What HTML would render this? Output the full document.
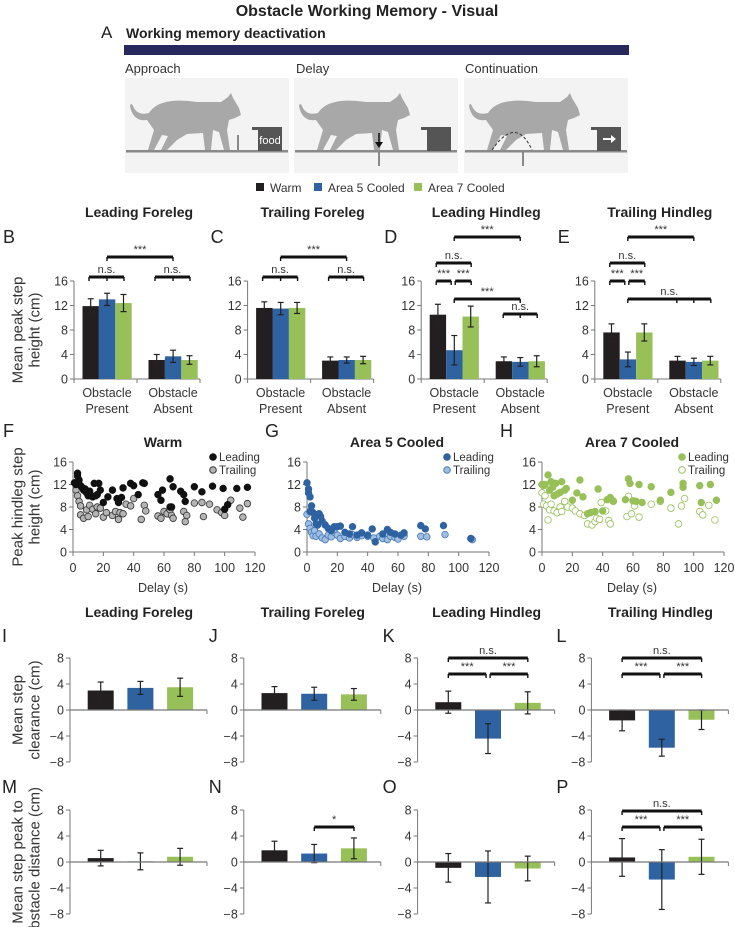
<!DOCTYPE html>
<html><head><meta charset="utf-8">
<style>
html,body{margin:0;padding:0;background:#fff;}
svg{display:block;font-family:"Liberation Sans",Arial,sans-serif;}
</style></head>
<body>
<svg id="fig" width="735" height="927" viewBox="0 0 735 927" xmlns="http://www.w3.org/2000/svg">
<text x="367" y="16" text-anchor="middle" font-size="16" font-weight="bold" fill="#222">Obstacle Working Memory - Visual</text>
<text x="101" y="38" font-size="17" fill="#222">A</text>
<text x="126" y="38" font-size="14" font-weight="bold" fill="#222">Working memory deactivation</text>
<rect x="124" y="45" width="505" height="10" fill="#26285e"/>
<text x="125" y="73" font-size="13" fill="#333">Approach</text>
<text x="296" y="73" font-size="13" fill="#333">Delay</text>
<text x="465" y="73" font-size="13" fill="#333">Continuation</text>
<g id="schematic"></g>
<g>
<rect x="256" y="183" width="8" height="8" fill="#231f20"/>
<text x="270" y="192" font-size="12" fill="#333">Warm</text>
<rect x="314" y="183" width="8" height="8" fill="#2e62a0"/>
<text x="328" y="192" font-size="12" fill="#333">Area 5 Cooled</text>
<rect x="414" y="183" width="8" height="8" fill="#97c058"/>
<text x="428" y="192" font-size="12" fill="#333">Area 7 Cooled</text>
</g>
<g id="charts"></g>
</svg>
<script>
// ---------- data ----------
const conditions = ["Warm","Area 5 Cooled","Area 7 Cooled"];
const rowTitles = ["Leading Foreleg","Trailing Foreleg","Leading Hindleg","Trailing Hindleg"];
const heightCategories = ["Obstacle Present","Obstacle Absent"];
const heightTicks = [0,4,8,12,16];
const diffTicks = [-8,-4,0,4,8];
const heightB = [11.9,13.0,12.4, 3.1,3.7,3.1];
const heightBErr = [1.2,1.0,1.4, 0.9,1.0,0.7];
const heightC = [11.6,11.5,11.6, 3.0,3.1,3.1];
const heightCErr = [1.0,1.0,0.9, 0.6,0.5,0.6];
const heightD = [10.5,4.7,10.2, 2.9,2.8,2.9];
const heightDErr = [1.7,2.4,1.7, 0.7,0.7,0.9];
const heightE = [7.6,3.2,7.6, 3.0,2.8,3.0];
const heightEErr = [1.4,1.2,1.4, 0.7,0.6,0.7];
const clearI = [3.0,3.4,3.5]; const clearIErr = [1.3,1.0,1.4];
const clearJ = [2.6,2.5,2.4]; const clearJErr = [1.0,1.0,0.9];
const clearK = [1.2,-4.4,1.1]; const clearKErr = [1.7,2.3,1.7];
const clearL = [-1.6,-5.8,-1.5]; const clearLErr = [1.6,1.3,1.5];
const distM = [0.6,0.1,0.8]; const distMErr = [1.2,1.3,1.3];
const distN = [1.8,1.3,2.1]; const distNErr = [1.4,1.4,1.6];
const distO = [-0.9,-2.3,-1.0]; const distOErr = [2.2,4.0,1.9];
const distP = [0.7,-2.7,0.8]; const distPErr = [2.9,4.6,2.7];
const delayTicks = [0,20,40,60,80,100,120];
const warmLeadX = [1,2,3,3,4,5,6,7,8,9,10,11,12,13,14,15,16,17,18,20,23,26,29,30,32,33,38,40,43,46,47,56,58,59,64,65,66,71,73,74,80,85,92,99,100,102,108,115,64];
const warmLeadY = [12.3,12,13.5,14,12.8,11.8,11.5,11,11.2,10.5,10,10.8,10,9.8,12.2,10,10.2,12.2,11,8.8,9.8,11,9.5,8.8,9.7,11.4,12.2,11.8,10.2,12.3,12.2,10.2,9.2,11,13,8,11.6,10.8,10.2,9,11.6,10.7,11.7,11.3,7.6,8.4,11.3,11.5,8];
const warmTrailX = [1,2,3,4,5,5,7,9,10,11,13,15,16,18,20,22,26,28,30,31,33,35,38,40,45,47,48,56,58,60,62,64,65,66,73,74,75,80,85,86,90,95,98,100,104,110,112,115];
const warmTrailY = [12.3,11,10,9,8.2,6.6,6,7.5,6.3,8.3,7.6,6.8,8,7.8,6.2,7,6.5,7.2,5.8,7,6.8,8.5,8.2,9.5,5.8,8.3,7.3,6.4,6,7.2,6.8,7.5,6.5,6,7.2,5.4,6.5,8.7,8.8,6.3,8.5,7.5,7,6.5,9.2,7.8,6.2,8.6];
const a5LeadX = [0,1,1,2,2,3,4,5,6,7,8,9,10,12,14,16,18,20,22,25,28,30,33,36,40,43,45,50,53,55,58,62,64,75,78,90,108];
const a5LeadY = [12.3,10.5,11.2,9.8,7.2,8.2,7,6,5,4.8,6.8,6.3,5.5,4.8,4.2,3.8,4.5,4.5,4.6,3.5,3.2,4.5,3,3.4,3,4.1,1.8,3.2,4,3.5,3.2,3,3.4,4.7,4.1,4.7,2.4];
const a5TrailX = [0,1,2,3,4,5,6,8,10,12,14,16,18,20,22,25,28,30,33,36,40,44,48,50,53,55,58,60,64,75,79,91,109];
const a5TrailY = [6.7,5,4.2,3.5,2.9,3.8,2.8,3.2,2.5,2.2,3,2.7,3.5,3,2.4,2.8,2.5,3.1,2.6,2.9,2.8,2.5,2.8,2.4,2.2,2.8,2.6,2.3,2.8,2.8,2.7,3.1,2.2];
const a7LeadX = [0,1,2,4,5,6,7,8,9,10,12,13,15,16,20,23,25,27,30,32,35,37,40,43,45,47,55,57,58,60,62,64,72,78,85,93,93,104,105,111,115,66];
const a7LeadY = [12,11.8,12,13.7,11,12.5,11.5,10,12.2,10.3,10.6,12.5,11,11.3,9.2,10.5,12.8,9.8,6.8,7,7.2,11.2,7.3,9.3,9.7,9.1,9.3,13,12.2,9.1,9,12,11.6,9.2,10.6,12.2,11.5,11.8,8.8,12,9.2,8.8];
const a7TrailX = [0,1,2,3,4,5,6,8,10,12,13,15,17,20,22,25,28,30,33,35,36,38,39,42,44,45,47,56,57,59,61,64,72,78,85,90,92,94,104,106,110,114];
const a7TrailY = [10.5,8.5,10,8.2,5.7,7.5,8.5,7.3,7,8,7.2,9,8,7.8,7.3,6.8,6.5,5,4.8,5.4,6,5.8,8.8,7.3,5.6,5,9,6.3,9.9,6.8,8.2,6.2,8.5,9,7.8,5,8.2,9.5,7.2,6.6,8.3,5.7];

// ---------- helpers ----------
const NS = "http://www.w3.org/2000/svg";
const root = document.getElementById('charts');
const COL = ["#231f20","#2e62a0","#97c058"];
function mk(tag, attrs, parent){
  const e = document.createElementNS(NS, tag);
  for (const k in attrs) e.setAttribute(k, attrs[k]);
  (parent||root).appendChild(e);
  return e;
}
function txt(x,y,s,size,anchor,weight,parent){
  const t = mk('text',{x:x,y:y,'font-size':size,'text-anchor':anchor||'start','font-weight':weight||'normal',fill:'#222'},parent);
  t.textContent = s;
  return t;
}
function vlabel(cx,cy,lines){
  const g = mk('g',{transform:'translate('+cx+','+cy+') rotate(-90)'});
  
  
  lines.forEach((l,i)=>{
    const t = txt(0, (i-(lines.length-1)/2)*17+5, l, 15, 'middle', 'normal', g);
    t.setAttribute('fill','#333');
  });
}
function yAxis(g, axX, ys, ticks){
  const l = mk('line',{x1:axX,x2:axX,y1:ys(ticks[ticks.length-1]),y2:ys(ticks[0]),stroke:'#777','stroke-width':1},g);
  
  
  ticks.forEach(v=>{
    mk('line',{x1:axX-4,x2:axX,y1:ys(v),y2:ys(v),stroke:'#777'},g);
    const t = txt(axX-6, ys(v)+4.5, (v<0?'\u2212'+(-v):String(v)), 12.5, 'end','normal',g);
    t.setAttribute('fill','#333');
    
    
  });
}
function errBar(g,cx,yTop,yBot){
  mk('line',{x1:cx,x2:cx,y1:yTop,y2:yBot,stroke:'#222','stroke-width':1.2},g);
  mk('line',{x1:cx-3,x2:cx+3,y1:yTop,y2:yTop,stroke:'#222','stroke-width':1.2},g);
  mk('line',{x1:cx-3,x2:cx+3,y1:yBot,y2:yBot,stroke:'#222','stroke-width':1.2},g);
}
function bracket(x1,x2,y,label,ticksX){
  const g = mk('g',{});
  
  
  mk('line',{x1:x1,x2:x2,y1:y,y2:y,stroke:'#111','stroke-width':3},g);
  (ticksX||[x1,x2]).forEach(x=>mk('line',{x1:x,x2:x,y1:y,y2:y+4,stroke:'#111','stroke-width':1.4},g));
  const t = txt((x1+x2)/2, y-4, label, 11, 'middle','normal',g);
  t.setAttribute('fill','#333');
}

// ---------- height bar charts (B-E) ----------
const heightSets = [[heightB,heightBErr],[heightC,heightCErr],[heightD,heightDErr],[heightE,heightEErr]];
const letters1 = ["B","C","D","E"];
function hAxX(i){return 74 + i*173.6;}
const hY = v => 379 - v*6.125;
heightSets.forEach((set,p)=>{
  const axX = hAxX(p);
  const g = mk('g',{});
  
  
  const tt = txt(axX+65, 217, rowTitles[p], 14, 'middle','bold',g);
  
  
  const lt = txt(p===0?3:axX-37, 243, letters1[p], 18, 'start','normal',g);
  
  
  yAxis(g, axX, hY, heightTicks);
  const xl = mk('line',{x1:axX,x2:axX+126,y1:hY(0),y2:hY(0),stroke:'#777'},g);
  
  
  [0,63,126].forEach(d=>mk('line',{x1:axX+d,x2:axX+d,y1:hY(0),y2:hY(0)+4,stroke:'#777'},g));
  heightCategories.forEach((c,gi)=>{
    const cx = axX+33+gi*66;
    const parts = c.split(' ');
    const t1 = txt(cx, 397, parts[0], 12.5,'middle','normal',g); t1.setAttribute('fill','#333');
    
    
    const t2 = txt(cx, 413, parts[1], 12.5,'middle','normal',g); t2.setAttribute('fill','#333');
    for(let i=0;i<3;i++){
      const v = set[0][gi*3+i], e = set[1][gi*3+i];
      const x = axX+8.5+gi*66+i*16.4;
      const r = mk('rect',{x:x,y:hY(v),width:16.4,height:hY(0)-hY(v),fill:COL[i]},g);
      
      
      errBar(g, x+8.2, hY(v+e), hY(v-e));
    }
  });
});
(function(){
  let a=hAxX(0); bracket(a+15,a+50,277,'n.s.',[a+15,a+33,a+50]); bracket(a+81,a+116,277,'n.s.',[a+81,a+99,a+116]); bracket(a+33,a+99,257,'***');
  a=hAxX(1); bracket(a+15,a+50,277,'n.s.',[a+15,a+33,a+50]); bracket(a+81,a+116,277,'n.s.',[a+81,a+99,a+116]); bracket(a+33,a+99,257,'***');
  a=hAxX(2); bracket(a+33,a+99,237,'***'); bracket(a+15,a+50,263,'n.s.'); bracket(a+15,a+30,281,'***'); bracket(a+34,a+50,281,'***');
  bracket(a+33,a+99,299,'***'); bracket(a+82,a+116,314,'n.s.',[a+82,a+99,a+116]);
  a=hAxX(3); bracket(a+33,a+99,237,'***'); bracket(a+15,a+50,263,'n.s.'); bracket(a+15,a+30,281,'***'); bracket(a+34,a+50,281,'***');
  bracket(a+33,a+116,299,'n.s.',[a+33,a+82,a+99,a+116]);
})();
vlabel(26,330,["Mean peak step","height (cm)"]);

// ---------- scatter (F-H) ----------
const scSets = [
  {title:"Warm",letter:"F",ax:73,lx:warmLeadX,ly:warmLeadY,tx:warmTrailX,ty:warmTrailY,lf:"#111",ls:"#111",tf:"#b4b4b4",ts:"#333"},
  {title:"Area 5 Cooled",letter:"G",ax:307,lx:a5LeadX,ly:a5LeadY,tx:a5TrailX,ty:a5TrailY,lf:"#2e62a0",ls:"#2e62a0",tf:"#9dbde3",ts:"#4a7ab3"},
  {title:"Area 7 Cooled",letter:"H",ax:542,lx:a7LeadX,ly:a7LeadY,tx:a7TrailX,ty:a7TrailY,lf:"#97c058",ls:"#97c058",tf:"#fff",ts:"#97c058"}
];
const sY = v => 552 - v*5.625;
const SW = 182;
scSets.forEach(s=>{
  const g = mk('g',{});
  
  
  const sX = v => s.ax + v*(SW/120);
  const tt = txt(s.ax+90, 447, s.title, 14,'middle','bold',g);
  
  
  const lt = txt(s.ax===73?3:s.ax-42, 437, s.letter, 18,'start','normal',g);
  
  
  yAxis(g, s.ax, sY, heightTicks);
  mk('line',{x1:s.ax,x2:sX(120),y1:sY(0),y2:sY(0),stroke:'#777'},g);
  delayTicks.forEach(v=>{
    mk('line',{x1:sX(v),x2:sX(v),y1:sY(0),y2:sY(0)+4,stroke:'#777'},g);
    const t = txt(sX(v), 572, String(v), 12.5,'middle','normal',g); t.setAttribute('fill','#333');
    
    
  });
  const xt = txt(s.ax+90, 592, 'Delay (s)', 12.5,'middle','normal',g); xt.setAttribute('fill','#333');
  
  
  s.tx.forEach((x,i)=>{
    const c = mk('circle',{cx:sX(x),cy:sY(s.ty[i]),r:3.3,fill:s.tf,stroke:s.ts,'stroke-width':0.8},g);
    
    
  });
  s.lx.forEach((x,i)=>{
    const c = mk('circle',{cx:sX(x),cy:sY(s.ly[i]),r:3.3,fill:s.lf,stroke:s.ls,'stroke-width':0.8},g);
    
    
  });
  const lg = mk('g',{},g);
  
  
  mk('circle',{cx:s.ax+140,cy:457,r:3.3,fill:s.lf,stroke:s.ls},lg);
  let t = txt(s.ax+146,461,'Leading',11.5,'start','normal',lg); t.setAttribute('fill','#333');
  mk('circle',{cx:s.ax+140,cy:470,r:3.3,fill:s.tf,stroke:s.ts},lg);
  t = txt(s.ax+146,474,'Trailing',11.5,'start','normal',lg); t.setAttribute('fill','#333');
});
vlabel(26,507,["Peak hindleg step","height (cm)"]);

// ---------- clearance / distance (I-P) ----------
function diffChart(vals, errs, p, y0, letter, title, letterY){
  const axX = 70 + p*173.8;
  const dy = v => y0 - v*6.5;
  const g = mk('g',{});
  
  
  if(title){ const tt = txt(axX+69, 617, title, 14,'middle','bold',g);   }
  const lt = txt(p===0?2:axX-35, letterY, letter, 18,'start','normal',g);
  
  
  yAxis(g, axX, dy, diffTicks);
  for(let i=0;i<3;i++){
    const v = vals[i], e = errs[i];
    const x = axX+17.7+i*39.7;
    const r = mk('rect',{x:x,y:Math.min(dy(v),dy(0)),width:26,height:Math.abs(dy(v)-dy(0)),fill:COL[i]},g);
    
    
    errBar(g, x+13, dy(v+e), dy(v-e));
  }
  const xl = mk('line',{x1:axX,x2:axX+137,y1:dy(0),y2:dy(0),stroke:'#777','stroke-width':1.2},g);
  
  
  mk('line',{x1:axX+137,x2:axX+137,y1:dy(0),y2:dy(0)+4,stroke:'#777'},g);
  return axX;
}
const clearSets = [[clearI,clearIErr,"I"],[clearJ,clearJErr,"J"],[clearK,clearKErr,"K"],[clearL,clearLErr,"L"]];
const distSets = [[distM,distMErr,"M"],[distN,distNErr,"N"],[distO,distOErr,"O"],[distP,distPErr,"P"]];
const cAx = clearSets.map((s,p)=>diffChart(s[0],s[1],p,710,s[2],rowTitles[p],642));
const dAx = distSets.map((s,p)=>diffChart(s[0],s[1],p,862,s[2],null,793));
[2,3].forEach(p=>{
  const a=cAx[p]; const c0=a+30.7,c1=a+70.5,c2=a+110.2;
  bracket(c0,c2,658,'n.s.'); bracket(c0,c1-2,674,'***'); bracket(c1+2,c2,674,'***');
});
(function(){const a=dAx[1]; bracket(a+70.5,a+110.2,827,'*');
 const b=dAx[3]; bracket(b+30.7,b+110.2,811,'n.s.'); bracket(b+30.7,b+68.5,827,'***'); bracket(b+72.5,b+110.2,827,'***');})();
vlabel(26,710,["Mean step","clearance (cm)"]);
vlabel(26,862,["Mean step peak to","obstacle distance (cm)"]);

// ---------- schematic panels ----------
const sch = document.getElementById('schematic');
const catPath = "M20,42 Q6,44 3,28 Q4,24 6,28 Q10,38 22,35 C30,22 50,21 70,24 L94,24 L101,19 L104,15 L106,20 L112,30 L114,37 L108,40 L102,42 L100,52 L103,72 L97,72 L92,54 L86,52 L84,72 L78,72 L76,55 L60,56 L50,62 L40,72 L34,72 L41,58 L35,57 L27,72 L21,72 L27,52 Z";
[125,294,464].forEach((px,k)=>{
  const g = mk('g',{},sch);
  
  
  mk('rect',{x:px,y:78,width:164,height:95,fill:'#f3f3f3'},g);
  const cat = mk('path',{d:catPath,fill:'#a8a8a8',transform:'translate('+(px+2)+',78)'},g);
  
  
  mk('rect',{x:px+1,y:150,width:162,height:2.5,fill:'#8a8a8a'},g);
  const bx = px+130;
  mk('rect',{x:bx-3,y:127,width:30,height:3,fill:'#555'},g);
  mk('rect',{x:bx+3,y:127,width:24,height:24,fill:'#555'},g);
  if(k===0){
    mk('rect',{x:px+112,y:135,width:2,height:16,fill:'#8a8a8a'},g);
    const t = txt(bx+15,144,'food',11,'middle','normal',g); t.setAttribute('fill','#fff');
  } else {
    mk('rect',{x:px+(k===1?84:58),y:151,width:2,height:15,fill:'#8a8a8a'},g);
  }
  if(k===1){
    mk('line',{x1:px+85,x2:px+85,y1:133,y2:143,stroke:'#111','stroke-width':1.5},g);
    mk('path',{d:'M'+(px+81)+',142 L'+(px+89)+',142 L'+(px+85)+',148 Z',fill:'#111'},g);
  }
  if(k===2){
    mk('path',{d:'M'+(px+28)+',150 Q'+(px+52)+',115 '+(px+68)+',150',fill:'none',stroke:'#333','stroke-width':1,'stroke-dasharray':'3,2'},g);
    mk('line',{x1:bx+9,x2:bx+18,y1:139,y2:139,stroke:'#fff','stroke-width':2},g);
    mk('path',{d:'M'+(bx+17)+',135 L'+(bx+22)+',139 L'+(bx+17)+',143 Z',fill:'#fff'},g);
  }
});
</script>
</body></html>
